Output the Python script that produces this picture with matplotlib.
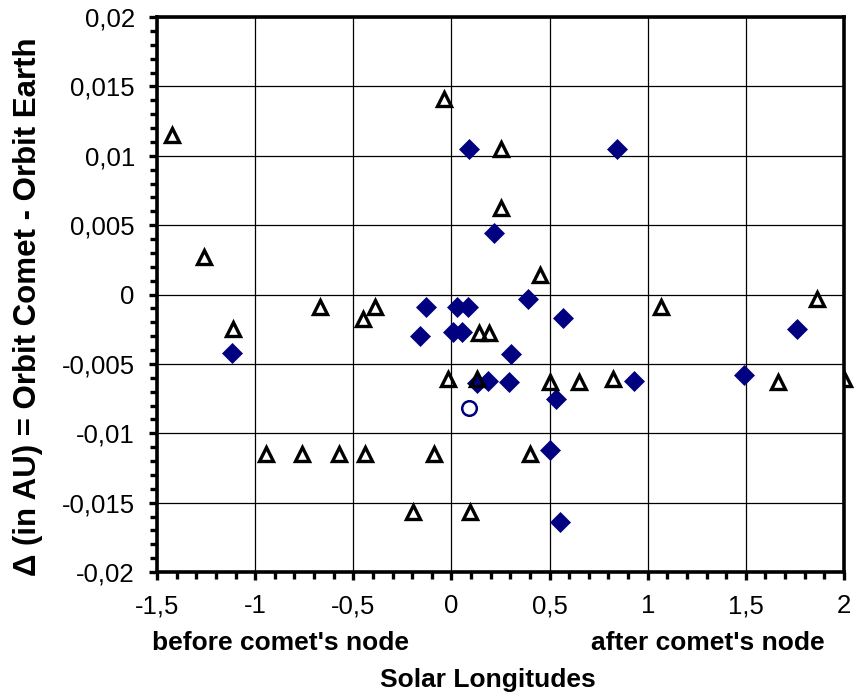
import matplotlib
matplotlib.use("Agg")
import matplotlib.pyplot as plt
from matplotlib.patches import Rectangle

plt.rcParams['font.family'] = ['Liberation Sans', 'DejaVu Sans']

# open triangles (black)
tri_x = [-1.423, -1.26, -1.111, -0.668, -0.45, -0.388, -0.039, 0.254, 0.254, 0.451,
         0.141, 0.19, 1.07, 1.862, -0.017, 0.131, 0.501, 0.649, 0.825, 1.662,
         -0.946, -0.76, -0.573, -0.439, -0.09, 0.4, -0.195, 0.093]
tri_y = [0.0115, 0.0027, -0.0025, -0.0009, -0.0018, -0.0009, 0.0141, 0.0105, 0.0062, 0.0014,
         -0.0028, -0.0028, -0.0009, -0.0003, -0.0061, -0.0061, -0.0063, -0.0063, -0.0061, -0.0063,
         -0.0115, -0.0115, -0.0115, -0.0115, -0.0115, -0.0115, -0.0157, -0.0157]
# triangle sitting on the right border
edge_x = [2.0]
edge_y = [-0.0061]

# filled diamonds (navy)
dia_x = [-1.119, -0.131, -0.158, 0.092, 0.842, 0.219, 0.389, 0.029, 0.083, 0.568,
         0.009, 0.055, 0.301, 0.93, 1.491, 1.76, 0.531, 0.5, 0.551, 0.131, 0.186, 0.293]
dia_y = [-0.0042, -0.0009, -0.0030, 0.0105, 0.0105, 0.0044, -0.0003, -0.0009, -0.0009, -0.0017,
         -0.0027, -0.0027, -0.0043, -0.0062, -0.0058, -0.0025, -0.0075, -0.0112, -0.0164,
         -0.0064, -0.0062, -0.0063]

# open circle (navy)
circ_x = [0.088]
circ_y = [-0.0082]

x_ticks = [-1.5, -1, -0.5, 0, 0.5, 1, 1.5, 2]
x_labels = ['-1,5', '-1', '-0,5', '0', '0,5', '1', '1,5', '2']
y_ticks = [-0.02, -0.015, -0.01, -0.005, 0, 0.005, 0.01, 0.015, 0.02]
y_labels = ['-0,02', '-0,015', '-0,01', '-0,005', '0', '0,005', '0,01', '0,015', '0,02']

W, H = 859, 695
fig = plt.figure(figsize=(W / 100, H / 100), dpi=100)
L, R, T, B = 157, 844, 17, 572
ax = fig.add_axes([L / W, 1 - B / H, (R - L) / W, (B - T) / H])

navy = '#000080'
ax.plot(dia_x, dia_y, linestyle='none', marker='D', markersize=10,
        markerfacecolor=navy, markeredgecolor=navy, markeredgewidth=0.5, zorder=3)
ax.plot(tri_x, tri_y, linestyle='none', marker='^', markersize=10.5,
        markerfacecolor='none', markeredgecolor='black', markeredgewidth=2.4, zorder=4)
ax.plot(circ_x, circ_y, linestyle='none', marker='o', markersize=10.5,
        markerfacecolor='none', markeredgecolor=navy, markeredgewidth=1.8, zorder=4)
edge, = ax.plot(edge_x, edge_y, linestyle='none', marker='^', markersize=10.5,
                markerfacecolor='none', markeredgecolor='black', markeredgewidth=2.4, zorder=4)
edge.set_clip_path(Rectangle((1.0, 0), 0.2, 1, transform=ax.transAxes))

ax.set_xlim(-1.5, 2)
ax.set_ylim(-0.02, 0.02)
ax.set_xticks(x_ticks)
ax.set_xticklabels(x_labels)
ax.set_yticks(y_ticks)
ax.set_yticklabels(y_labels)
ax.set_xticks([v / 10 for v in range(-15, 21)], minor=True)
ax.set_yticks([v / 1000 for v in range(-20, 21)], minor=True)

ax.grid(True, which='major', color='black', linewidth=0.9, zorder=1)
ax.set_axisbelow(True)
for s in ax.spines.values():
    s.set_linewidth(2.6)
    s.set_zorder(5)

ax.tick_params(which='both', direction='out', width=2.4, labelsize=18.5, color='black')
ax.tick_params(which='major', length=6)
ax.tick_params(which='minor', length=5)
ax.tick_params(axis='x', which='major', pad=10)
ax.tick_params(axis='y', which='major', pad=10)

fig.text(28 / W, 1 - 307 / H, 'Δ (in AU) = Orbit Comet - Orbit Earth', rotation=90,
         ha='center', va='center', fontsize=22.5, fontweight='bold')
fig.text(280 / W, 1 - 643 / H, "before comet's node", ha='center', va='center',
         fontsize=19, fontweight='bold')
fig.text(708 / W, 1 - 643 / H, "after comet's node", ha='center', va='center',
         fontsize=19, fontweight='bold')
fig.text(488 / W, 1 - 680 / H, 'Solar Longitudes', ha='center', va='center',
         fontsize=19, fontweight='bold')

fig.savefig('out.png', dpi=100)
